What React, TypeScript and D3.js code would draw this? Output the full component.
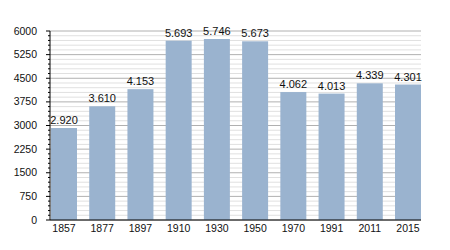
import React from "react";
import * as d3 from "d3";

const years = ["1857", "1877", "1897", "1910", "1930", "1950", "1970", "1991", "2011", "2015"];
const population = [2920, 3610, 4153, 5693, 5746, 5673, 4062, 4013, 4339, 4301];
const yMajorTicks = [0, 750, 1500, 2250, 3000, 3750, 4500, 5250, 6000];

export default function App() {
  const width = 450;
  const height = 250;
  const left = 50;
  const right = 421;
  const top = 31;
  const bottom = 220;

  const x = d3.scaleBand<string>().domain(years).range([left + 1, right]).paddingInner(0.32).paddingOuter(0);
  const y = d3.scaleLinear().domain([0, 6000]).range([bottom, top]);
  const minorTicks = d3.range(0, 6001, 150).filter((v) => v % 750 !== 0);
  const fmt = (v: number) => d3.format(",")(v).replace(/,/g, ".");

  return (
    <svg width={width} height={height} style={{ position: "absolute", left: 0, top: 0 }} fontFamily="Liberation Sans, Arial, sans-serif">
      {minorTicks.map((t) => (
        <line key={"m" + t} x1={left} x2={right} y1={y(t)} y2={y(t)} stroke="#e0e0e0" strokeWidth={1} />
      ))}
      {yMajorTicks.map((t) => (
        <line key={"g" + t} x1={left} x2={right} y1={y(t)} y2={y(t)} stroke="#b0b0b0" strokeWidth={1} />
      ))}
      {years.map((yr, i) => (
        <rect key={yr} x={x(yr)} y={y(population[i])} width={x.bandwidth()} height={bottom - y(population[i])} fill="#9ab3cf" />
      ))}
      {years.map((yr, i) => (
        <text key={"l" + yr} x={(x(yr) as number) + x.bandwidth() / 2} y={y(population[i]) - 4} textAnchor="middle" fontSize={11} fill="#111">
          {fmt(population[i])}
        </text>
      ))}
      <line x1={left} x2={left} y1={top} y2={bottom} stroke="#000" strokeWidth={1} />
      <line x1={left} x2={right} y1={bottom} y2={bottom} stroke="#000" strokeWidth={1} />
      {minorTicks.map((t) => (
        <line key={"mt" + t} x1={left - 2} x2={left} y1={y(t)} y2={y(t)} stroke="#000" strokeWidth={1} />
      ))}
      {yMajorTicks.map((t) => (
        <g key={"yt" + t}>
          <line x1={left - 4} x2={left} y1={y(t)} y2={y(t)} stroke="#000" strokeWidth={1} />
          <text x={37} y={y(t) + 3.5} textAnchor="end" fontSize={10.5} fill="#111">{t}</text>
        </g>
      ))}
      {years.map((yr) => (
        <text key={"x" + yr} x={(x(yr) as number) + x.bandwidth() / 2} y={232} textAnchor="middle" fontSize={10.5} fill="#111">
          {yr}
        </text>
      ))}
    </svg>
  );
}
